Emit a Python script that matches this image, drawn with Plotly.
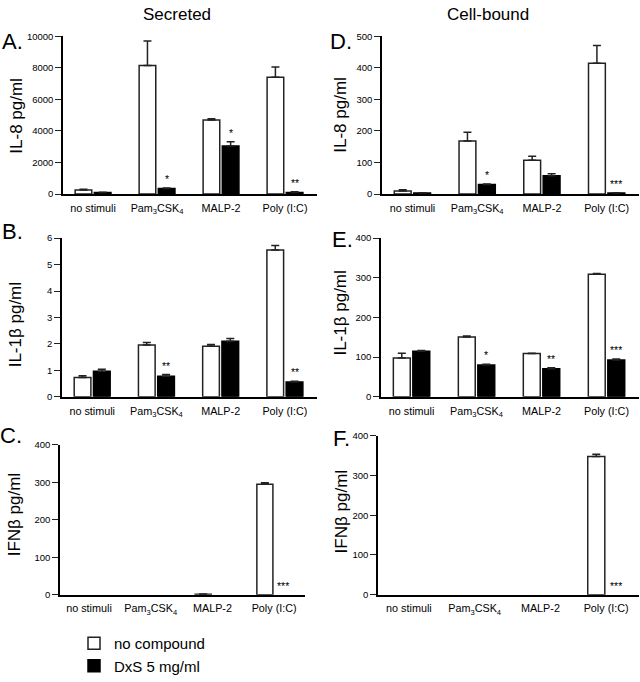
import plotly.graph_objects as go

# ---------------- data ----------------
categories = ["no stimuli", "Pam<sub>3</sub>CSK<sub>4</sub>", "MALP-2", "Poly (I:C)"]
series_names = ["no compound", "DxS 5 mg/ml"]

# A. IL-8 secreted
A_white = [250, 8150, 4700, 7400]
A_white_err = [50, 1550, 80, 650]
A_black = [100, 350, 3050, 100]
A_black_err = [20, 40, 270, 40]
A_sig = ["", "*", "*", "**"]

# B. IL-1b secreted
B_white = [0.73, 1.96, 1.91, 5.55]
B_white_err = [0.07, 0.09, 0.07, 0.17]
B_black = [0.97, 0.78, 2.10, 0.56]
B_black_err = [0.07, 0.06, 0.10, 0.03]
B_sig = ["", "**", "", "**"]

# C. IFNb secreted
C_white = [0, 0, 1, 295]
C_white_err = [0, 0, 1, 4]
C_black = [0, 0, 0, 0]
C_black_err = [0, 0, 0, 0]
C_sig = ["", "", "", "***"]

# D. IL-8 cell-bound
D_white = [10, 168, 107, 415]
D_white_err = [4, 28, 13, 56]
D_black = [3, 30, 58, 3]
D_black_err = [1, 2, 6, 1]
D_sig = ["", "*", "", "***"]

# E. IL-1b cell-bound
E_white = [98, 151, 109, 309]
E_white_err = [12, 2, 1, 2]
E_black = [115, 80, 71, 93]
E_black_err = [2, 2, 2, 2]
E_sig = ["", "*", "**", "***"]

# F. IFNb cell-bound
F_white = [0, 0, 0, 348]
F_white_err = [0, 0, 0, 6]
F_black = [0, 0, 0, 0]
F_black_err = [0, 0, 0, 0]
F_sig = ["", "", "", "***"]

A_ticks = [0, 2000, 4000, 6000, 8000, 10000]
B_ticks = [0, 1, 2, 3, 4, 5, 6]
C_ticks = [0, 100, 200, 300, 400]
D_ticks = [0, 100, 200, 300, 400, 500]
E_ticks = [0, 100, 200, 300, 400]
F_ticks = [0, 100, 200, 300, 400]

A_ylabel = "IL-8 pg/ml"
B_ylabel = "IL-1β pg/ml"
C_ylabel = "IFNβ pg/ml"
D_ylabel = "IL-8 pg/ml"
E_ylabel = "IL-1β pg/ml"
F_ylabel = "IFNβ pg/ml"

column_titles = ["Secreted", "Cell-bound"]

# ---------------- layout helpers ----------------
W, H = 640, 682
FONT = "Liberation Sans, Arial, Helvetica, sans-serif"

def fx(px):
    return px / W

def fy(py):
    return 1 - py / H

def nz(errs):
    # zero-length error bars are not drawn ("NaN" is skipped by plotly.js)
    return [e if e else "NaN" for e in errs]

def nzminus(errs):
    return [0 if e else "NaN" for e in errs]

def outline(vals, w=1.5):
    # no outline for zero-height bars
    return [w if v else 0 for v in vals]

# panel geometry in pixels: left, right, top (y max), bottom (y=0)
panels = [
    dict(letter="A.", w=A_white, we=A_white_err, b=A_black, be=A_black_err, sig=A_sig,
         ticks=A_ticks, ylab=A_ylabel, box=(63, 317, 31, 192), lab=(12, 36), yt=(17, 112)),
    dict(letter="D.", w=D_white, we=D_white_err, b=D_black, be=D_black_err, sig=D_sig,
         ticks=D_ticks, ylab=D_ylabel, box=(382, 639, 31, 192), lab=(341, 36), yt=(341, 111)),
    dict(letter="B.", w=B_white, we=B_white_err, b=B_black, be=B_black_err, sig=B_sig,
         ticks=B_ticks, ylab=B_ylabel, box=(62, 317, 237, 399), lab=(12, 230), yt=(15, 326)),
    dict(letter="E.", w=E_white, we=E_white_err, b=E_black, be=E_black_err, sig=E_sig,
         ticks=E_ticks, ylab=E_ylabel, box=(381, 639, 237, 399), lab=(342, 238), yt=(341, 314)),
    dict(letter="C.", w=C_white, we=C_white_err, b=C_black, be=C_black_err, sig=C_sig,
         ticks=C_ticks, ylab=C_ylabel, box=(60, 305, 448, 601), lab=(11, 438), yt=(14, 520)),
    dict(letter="F.", w=F_white, we=F_white_err, b=F_black, be=F_black_err, sig=F_sig,
         ticks=F_ticks, ylab=F_ylabel, box=(378, 639, 439, 601), lab=(341, 442), yt=(341, 517)),
]

xpos = list(range(len(categories)))
BAR_W = 0.26
WHITE_OFF = -0.28
BLACK_OFF = 0.02

fig = go.Figure()
layout = dict(
    width=W, height=H, margin=dict(l=0, r=0, t=0, b=0),
    paper_bgcolor="white", plot_bgcolor="white",
    barmode="overlay", font=dict(family=FONT, color="black"),
    showlegend=True,
    legend=dict(x=fx(74), y=fy(634), xanchor="left", yanchor="top",
                font=dict(size=15, family=FONT), bgcolor="rgba(0,0,0,0)",
                tracegroupgap=0, itemclick=False),
)
annotations = []

for k, p in enumerate(panels):
    n = k + 1
    xa = "x" if n == 1 else f"x{n}"
    ya = "y" if n == 1 else f"y{n}"
    left, right, top, bottom = p["box"]
    fig.add_trace(go.Bar(
        x=xpos, y=p["w"], xaxis=xa, yaxis=ya, width=BAR_W, offset=WHITE_OFF,
        name=series_names[0], showlegend=(k == 0), legendrank=1,
        marker=dict(color="white", line=dict(color="#222", width=outline(p["w"]))),
        error_y=dict(type="data", array=nz(p["we"]), arrayminus=nzminus(p["we"]),
                     symmetric=False, thickness=1.5, width=4, color="#222"),
        hoverinfo="skip",
    ))
    fig.add_trace(go.Bar(
        x=xpos, y=p["b"], xaxis=xa, yaxis=ya, width=BAR_W, offset=BLACK_OFF,
        name=series_names[1], showlegend=(k == 0), legendrank=2,
        marker=dict(color="black", line=dict(color="black", width=outline(p["b"]))),
        error_y=dict(type="data", array=nz(p["be"]), arrayminus=nzminus(p["be"]),
                     symmetric=False, thickness=1.5, width=4, color="#222"),
        hoverinfo="skip",
    ))
    key = "xaxis" if n == 1 else f"xaxis{n}"
    ykey = "yaxis" if n == 1 else f"yaxis{n}"
    layout[key] = dict(
        domain=[fx(left), fx(right)], anchor=ya, range=[-0.47, 3.5],
        tickvals=xpos, ticktext=categories, ticks="", showgrid=False,
        zeroline=False, showline=True, linecolor="black", linewidth=1.5,
        tickfont=dict(size=10.8, family=FONT, color="black"), ticklabelstandoff=3,
    )
    layout[ykey] = dict(
        domain=[fy(bottom), fy(top)], anchor=xa, range=[0, max(p["ticks"])],
        tickvals=p["ticks"], tickformat="d", ticks="outside", ticklen=6, tickwidth=1,
        tickcolor="#222", showgrid=False, zeroline=False, showline=True,
        linecolor="black", linewidth=1.5,
        tickfont=dict(size=9.5, family=FONT, color="black"),
    )
    # significance stars
    for i, s in enumerate(p["sig"]):
        if s:
            annotations.append(dict(
                x=i + BLACK_OFF + BAR_W / 2, y=p["b"][i] + p["be"][i], xref=xa, yref=ya,
                text=s, showarrow=False, yanchor="bottom", yshift=1,
                font=dict(size=10.5, family=FONT, color="black"),
            ))
    # panel letter
    annotations.append(dict(
        x=fx(p["lab"][0]), y=fy(p["lab"][1]), xref="paper", yref="paper",
        text=p["letter"], showarrow=False, xanchor="center", yanchor="middle",
        font=dict(size=22, family=FONT, color="black"),
    ))
    # y-axis title
    annotations.append(dict(
        x=fx(p["yt"][0]), y=fy(p["yt"][1]), xref="paper", yref="paper",
        text=p["ylab"], showarrow=False, textangle=-90, xanchor="center", yanchor="middle",
        font=dict(size=17, family=FONT, color="black"),
    ))

for title, cx in zip(column_titles, [177, 488]):
    annotations.append(dict(
        x=fx(cx), y=fy(9), xref="paper", yref="paper", text=title, showarrow=False,
        xanchor="center", yanchor="middle", font=dict(size=17, family=FONT, color="black"),
    ))

layout["annotations"] = annotations
fig.update_layout(**layout)
fig.write_html("out.html", config={"displayModeBar": False},
               post_script="document.body.style.margin='0';document.body.style.overflow='hidden';")
